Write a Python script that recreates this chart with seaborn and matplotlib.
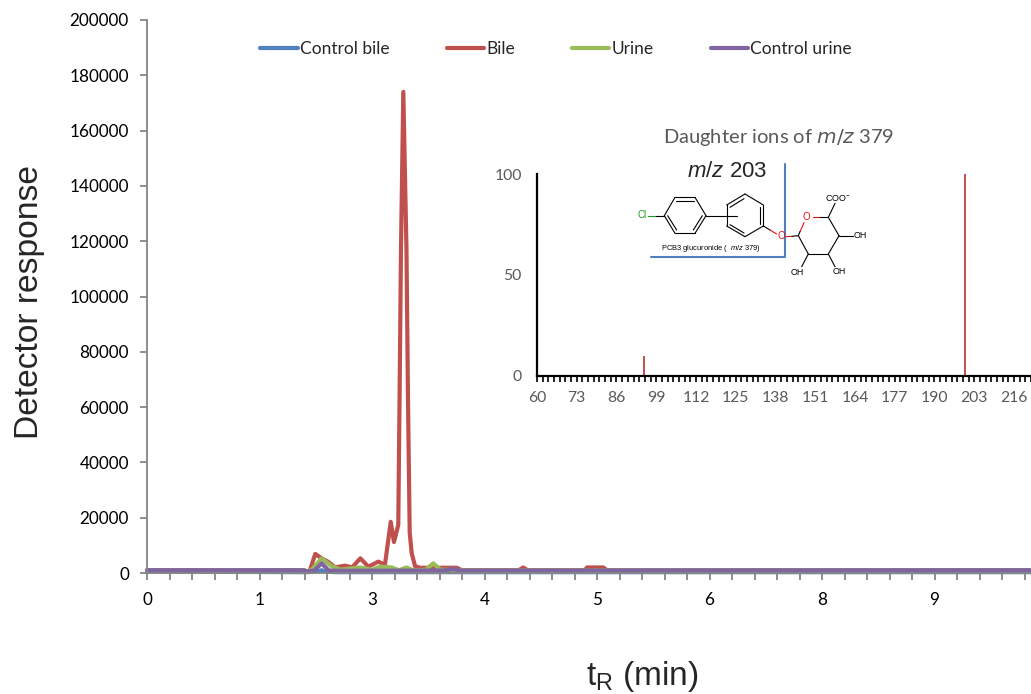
import numpy as np
import pandas as pd
import matplotlib
matplotlib.use("Agg")
import matplotlib.pyplot as plt
import seaborn as sns

# retention time (min) / detector response
bile_t = [0, 1.74, 1.78, 1.81, 1.87, 1.94, 2.01, 2.09, 2.20, 2.28, 2.37, 2.46, 2.57, 2.644, 2.708, 2.744,
          2.792, 2.806, 2.822, 2.848, 2.883, 2.90, 2.919, 2.941, 2.978, 3.03, 3.44, 3.50, 4.13, 4.18, 4.23,
          4.86, 4.89, 5.07, 5.11, 9.82]
bile_y = [1000, 1000, 500, 1000, 6900, 5300, 4100, 2050, 2650, 2050, 5300, 2300, 4100, 3000, 18500, 11200,
          17400, 62500, 117000, 174000, 117000, 62500, 14500, 7200, 2500, 1900, 1900, 1000, 1000, 2000, 1000,
          1000, 2000, 2000, 1000, 1000]
urine_t = [0, 1.74, 1.78, 1.84, 1.94, 2.05, 2.15, 2.37, 2.50, 2.59, 2.72, 2.80, 2.88, 2.96, 3.10, 3.18,
           3.26, 3.40, 3.50, 9.82]
urine_y = [1000, 1000, 500, 1500, 5300, 2500, 1200, 2000, 1200, 2300, 2000, 1000, 2000, 1000, 1200, 3500,
           1200, 1200, 900, 1000]
control_urine_t = [0, 1.74, 1.78, 1.86, 1.94, 2.02, 2.15, 3.30, 3.40, 3.48, 9.82]
control_urine_y = [1000, 1000, 600, 900, 3500, 900, 800, 900, 1500, 900, 1000]
control_bile_t = [0, 1.78, 1.90, 1.94, 1.98, 2.10, 9.82]
control_bile_y = [500, 300, 500, 1000, 500, 300, 300]

series_names = ["Control bile", "Bile", "Urine", "Control urine"]
series_colors = ["#4f81bd", "#c0504d", "#9bbb59", "#8064a2"]

main_tick_labels = ["0", "1", "3", "4", "5", "6", "8", "9"]
main_yticks = [0, 20000, 40000, 60000, 80000, 100000, 120000, 140000, 160000, 180000, 200000]

# daughter ion spectrum
ion_mz = [95, 200]
ion_rel = [10, 101]
inset_labels = [60, 73, 86, 99, 112, 125, 138, 151, 164, 177, 190, 203, 216]

W, H = 1031, 694

frames = []
for name, t, y in zip(series_names,
                      [control_bile_t, bile_t, urine_t, control_urine_t],
                      [control_bile_y, bile_y, urine_y, control_urine_y]):
    frames.append(pd.DataFrame({"t": t, "response": y, "series": name}))
df = pd.concat(frames, ignore_index=True)

sns.set_style("white")
plt.rcParams['font.family'] = ['Lato', 'DejaVu Sans']
plt.rcParams['mathtext.fontset'] = 'custom'
plt.rcParams['mathtext.rm'] = 'Liberation Sans'
plt.rcParams['mathtext.it'] = 'Liberation Sans:italic'

fig = plt.figure(figsize=(W / 100, H / 100), dpi=100)


def px_axes(x0, y0, x1, y1):
    # axes rectangle given in image pixels
    return fig.add_axes([x0 / W, 1 - y1 / H, (x1 - x0) / W, (y1 - y0) / H])


ax = px_axes(147, 20, 1031, 573)
sns.lineplot(data=df, x="t", y="response", hue="series", hue_order=series_names,
             palette=dict(zip(series_names, series_colors)), estimator=None, sort=False,
             linewidth=3, ax=ax, clip_on=False)
ax.set_xlim(0, (W - 147) / 90)
ax.set_ylim(0, 200000)
ax.set_xlabel("")
ax.set_ylabel("")

x_ticks = np.arange(0, 9.8, 0.25)
x_labels = [main_tick_labels[i // 5] if i % 5 == 0 else "" for i in range(len(x_ticks))]
ax.set_xticks(x_ticks)
ax.set_xticklabels(x_labels)
ax.set_yticks(main_yticks)
ax.tick_params(axis="both", length=5, width=1.3, color="#868686", labelsize=12.3, labelcolor="black",
               bottom=True, left=True, pad=9)
ax.tick_params(axis="y", pad=8)
for side in ["top", "right"]:
    ax.spines[side].set_visible(False)
for side in ["left", "bottom"]:
    ax.spines[side].set_color("#868686")
    ax.spines[side].set_linewidth(1.3)

handles, labels = ax.get_legend_handles_labels()
ax.legend(handles, labels, ncol=4, frameon=False, fontsize=12.5, loc="center",
          bbox_to_anchor=(556 / W, 1 - 49.5 / H), bbox_transform=fig.transFigure,
          columnspacing=3.3, handlelength=2.15, handletextpad=0.12, borderpad=0, borderaxespad=0)

fig.text(30 / W, 1 - 302 / H, "Detector response", rotation=90, ha="center", va="center",
         fontsize=24.2, family="Liberation Sans")
fig.text(642 / W, 1 - 676 / H, r"t$_{\mathrm{R}}$ (min)", ha="center", va="center",
         fontsize=24, family="Liberation Sans")

# inset spectrum
ins = px_axes(537, 174, W, 376)
ins.patch.set_alpha(0)
ins.vlines(ion_mz, 0, ion_rel, color="#c0504d", linewidth=1.4)
ins.set_xlim(60, 60 + (W - 537) / 3.07)
ins.set_ylim(0, 100)
ins.set_yticks([0, 50, 100])
# seven tick marks per labelled step
ins_ticks = np.arange(0, 88) * 13 / 7 + 60
ins_labels = [str(inset_labels[i // 7]) if i % 7 == 0 else "" for i in range(len(ins_ticks))]
ins.set_xticks(ins_ticks)
ins.set_xticklabels(ins_labels)
ins.tick_params(axis="x", length=4, width=1.2, color="black", labelsize=11.3,
                labelcolor="#595959", bottom=True, pad=7)
ins.tick_params(axis="y", length=0, labelsize=11.3, labelcolor="#595959", pad=11)
for side in ["top", "right"]:
    ins.spines[side].set_visible(False)
for side in ["left", "bottom"]:
    ins.spines[side].set_color("black")
    ins.spines[side].set_linewidth(1.6)

fig.text(779 / W, 1 - 137 / H, r"Daughter ions of $\mathit{m/z}$ 379", ha="center", va="center",
         fontsize=14.5, color="#595959", math_fontfamily="dejavusans")

# overlay in pixel coordinates for the structure drawing
ov = fig.add_axes([0, 0, 1, 1])
ov.set_xlim(0, W)
ov.set_ylim(H, 0)
ov.axis("off")
ov.patch.set_alpha(0)


def zx(x):
    return 480 + x / 3


def zy(y):
    return 120 + y / 3


def bond(x0, y0, x1, y1, color="black", lw=0.8):
    ov.plot([zx(x0), zx(x1)], [zy(y0), zy(y1)], color=color, lw=lw, solid_capstyle="round")


def atom(x, y, s, color="black", size=6.4):
    ov.text(zx(x), zy(y), s, color=color, fontsize=size, ha="center", va="center", family="Liberation Sans")


ring1 = [(553, 287), (585, 232), (645, 232), (678, 287), (645, 340), (585, 340), (553, 287)]
ring2 = [(795, 222), (850, 255), (850, 318), (795, 350), (740, 318), (740, 255), (795, 222)]
sugar = [(1018, 292), (1045, 292), (1077, 347), (1045, 402), (985, 402), (955, 347)]
for ring in [ring1, ring2, sugar]:
    for a, b in zip(ring[:-1], ring[1:]):
        bond(a[0], a[1], b[0], b[1])
for seg in [(588, 242, 642, 242), (563, 287, 590, 330), (640, 330, 667, 287),
            (750, 262, 792, 236), (841, 262, 841, 312), (750, 314, 792, 339),
            (678, 287, 770, 287), (1045, 292, 1065, 250), (1077, 347, 1120, 347),
            (1045, 402, 1065, 440), (985, 402, 965, 440), (850, 318, 870, 330)]:
    bond(*seg)
for seg in [(870, 330, 890, 342), (918, 350, 936, 349), (960, 335, 972, 308), (1000, 292, 1018, 292)]:
    bond(*seg, color="#e01010")
bond(936, 349, 955, 347)
bond(955, 347, 960, 335)
bond(503, 287, 528, 287, color="#1a9a1a")
bond(528, 287, 553, 287)

atom(487, 285, "Cl", color="#1a9a1a", size=7)
atom(903, 347, "O", color="#e01010", size=7)
atom(980, 290, "O", color="#e01010", size=7)
atom(1075, 234, "COO$^{-}$")
atom(1140, 345, "OH")
atom(1078, 455, "OH")
atom(952, 457, "OH")
atom(692, 386, r"PCB3 glucuronide (  $\mathit{m/z}$ 379)", size=5.4)
ov.text(zx(742), zy(155), r"$\mathit{m/z}$ 203", fontsize=16, ha="center", va="center", family="Liberation Sans")

# blue bracket
ov.plot([zx(915), zx(915), zx(512)], [zy(132), zy(412), zy(412)], color="#4f81bd", lw=1.5)

fig.savefig("out.png", dpi=100)
